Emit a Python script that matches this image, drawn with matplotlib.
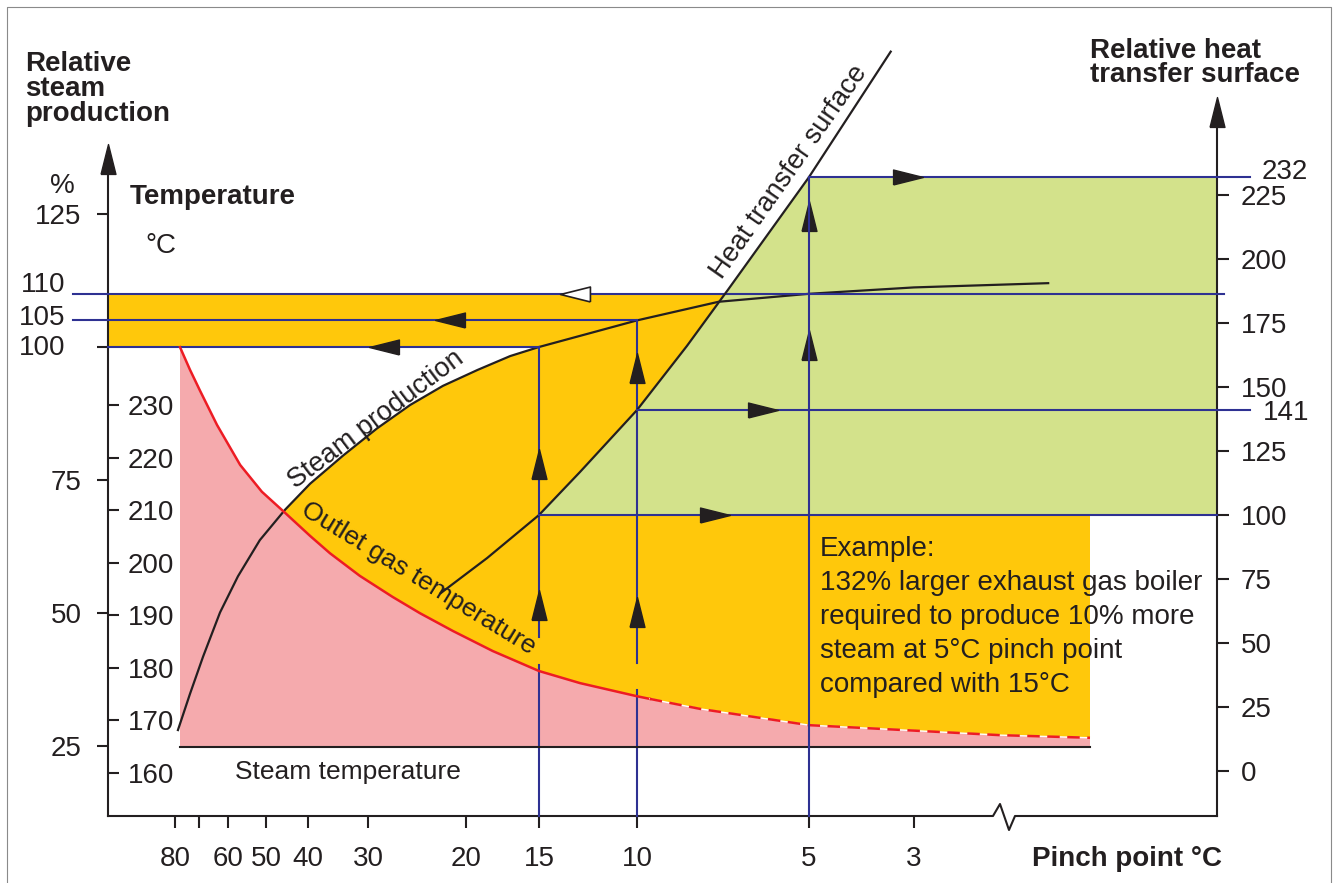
import numpy as np
import matplotlib
matplotlib.use("Agg")
import matplotlib.pyplot as plt
from matplotlib.patches import Polygon

plt.rcParams['font.family'] = ['Liberation Sans', 'DejaVu Sans']

# ---- values ----
# outlet gas temperature (degC) against pinch point (degC)
gas_pinch = [77.8, 73.6, 69.6, 63.6, 56.6, 51, 45.2, 39.6, 36, 31.2, 27.1, 24.2, 21.1, 18,
             15, 12.66, 10, 9.5, 7.76, 5, 3.21, 2, 1]
gas_temp = [241, 236.7, 232.7, 226.2, 218.6, 213.5, 209.5, 205.1, 201.8, 197.5, 193.5, 190.4,
            187, 183.2, 179.4, 177.1, 174.6, 174.1, 172.2, 169.1, 168.2, 167.2, 166.7]
gas_dashed_below = 9.5

# relative steam production (%)
steam_pinch = [78.7, 73.6, 68.5, 62.6, 57.2, 51.5, 45.2, 39.6, 33.8, 28.9, 25.2, 22, 19.1, 16.8,
               15, 10, 7.2, 5, 3, 1.38]
steam_pct = [28, 34.8, 41.8, 50.1, 56.9, 63.7, 69.4, 74.3, 79.6, 84.7, 89.1, 92.7, 95.7, 98.3,
             100, 105, 108.5, 110, 111.2, 112]

# relative heat transfer surface
surf_pinch = [22.2, 18.4, 15, 12.66, 10, 8.18, 6.93, 5, 3.36]
surf_rel = [69.5, 83.2, 100, 116.8, 141, 166, 188, 232, 281]

steam_temp = 165

# worked example
ex_pinch = [15, 10, 5]
ex_steam = [100, 105, 110]
ex_surf = [100, 141, 232]

pinch_ticks = [80, 70, 60, 50, 40, 30, 20, 15, 10, 5, 3]
pinch_labels = ['80', '', '60', '50', '40', '30', '20', '15', '10', '5', '3']
steam_ticks = [25, 50, 75, 100, 125]
steam_labels = ['25', '50', '75', '', '125']
temp_ticks = [160, 170, 180, 190, 200, 210, 220, 230]
surf_ticks = [0, 25, 50, 75, 100, 125, 150, 175, 200, 225]

ORANGE = '#FFC80B'
PINK = '#F5AAAD'
GREEN = '#D3E28B'
BLUE = '#2E3192'
RED = '#ED1C24'
INK = '#231F20'

# ---- layout (pixels of the 1336x883 picture) ----
W, H = 1336, 883
# the pinch axis is schematic: where each pinch value sits across the picture
knot_pinch = np.array([0.26, 0.5, 1, 2, 3, 5, 10, 15, 20, 30, 40, 50, 60, 70, 80, 210])
knot_px = np.array([1336, 1217, 1090, 1000, 914, 809, 637, 539, 466, 368, 308, 266, 228, 199, 175, 0])
knot_ln = np.log(knot_pinch)


def fwd(p):
    p = np.clip(np.asarray(p, dtype=float), 1e-6, None)
    return np.interp(np.log(p), knot_ln, knot_px)


def inv(x):
    return np.exp(np.interp(np.asarray(x, dtype=float), knot_px[::-1], knot_ln[::-1]))


def ylims(v0, y0, v1, y1):
    k = (v1 - v0) / (y1 - y0)
    return v0 + (H - y0) * k, v0 - y0 * k


X_LEFT, X_RIGHT, Y_BASE = 108, 1217, 816

fig = plt.figure(figsize=(W / 100, H / 100), dpi=100)
ax_px = fig.add_axes([0, 0, 1, 1])
ax_px.set_xlim(0, W)
ax_px.set_ylim(H, 0)
ax_px.axis('off')

ax_s = fig.add_axes([0, 0, 1, 1])
ax_s.set_xscale('function', functions=(fwd, inv))
ax_s.set_xlim(inv(0), inv(W))
ax_s.invert_xaxis()
ax_s.set_ylim(*ylims(100, 347, 25, 746))
ax_t = ax_s.twinx()
ax_t.set_ylim(*ylims(230, 405, 160, 773))
ax_h = ax_s.twinx()
ax_h.set_ylim(*ylims(225, 195, 0, 771))

for a in (ax_s, ax_t, ax_h):
    a.patch.set_visible(False)
    for sp in a.spines.values():
        sp.set_visible(False)


def to_px(ax, xs, ys):
    d = ax.transData.transform(np.column_stack([xs, ys]))
    return ax_px.transData.inverted().transform(d)


def y_at(ax, row):
    d = ax_px.transData.transform((0, row))
    return ax.transData.inverted().transform(d)[1]


# ---- filled areas ----
gp = np.array(gas_pinch)
gt = np.array(gas_temp)
sp_ = np.array(steam_pinch)
sv = np.array(steam_pct)
cross = 45.2

pink = np.vstack([to_px(ax_t, gp, gt),
                  to_px(ax_t, [gp[-1], gp[0]], [steam_temp, steam_temp])])
orange = np.vstack([to_px(ax_s, sp_[sp_ <= cross], sv[sp_ <= cross]),
                    to_px(ax_s, [gp[-1]], [sv[-1]]),
                    to_px(ax_t, gp[gp <= cross][::-1], gt[gp <= cross][::-1])])
band = to_px(ax_s, [inv(X_LEFT), 5, 5, inv(X_LEFT)], [100, 100, 110, 110])
sm = (np.array(surf_pinch) <= 15) & (np.array(surf_pinch) >= 5)
green = np.vstack([to_px(ax_h, np.array(surf_pinch)[sm], np.array(surf_rel)[sm]),
                   to_px(ax_h, [inv(X_RIGHT), inv(X_RIGHT)], [232, 100])])

for poly, col in ((orange, ORANGE), (band, ORANGE), (pink, PINK), (green, GREEN)):
    ax_px.add_patch(Polygon(poly, closed=True, facecolor=col, edgecolor='none', zorder=1))

# ---- frame ----
ax_px.plot([7, 7, 1331, 1331], [883, 7, 7, 883], color='#8a8a8a', lw=0.8, zorder=0)
ax_px.plot([X_LEFT, X_LEFT], [Y_BASE, 165], color=INK, lw=1.5, zorder=3)
ax_px.plot([X_RIGHT, X_RIGHT], [Y_BASE, 118], color=INK, lw=1.5, zorder=3)
ax_px.plot([X_LEFT, 993, 1000, 1009, 1015, X_RIGHT],
           [Y_BASE, Y_BASE, 804, 830, Y_BASE, Y_BASE], color=INK, lw=1.5, zorder=3)

UP = [(-0.5, -1), (0.5, -1), (0, 1), (-0.5, -1)]
LEFT = [(1, -0.5), (1, 0.5), (-1, 0), (1, -0.5)]
RIGHT = [(-1, -0.5), (-1, 0.5), (1, 0), (-1, -0.5)]
AMS = 21.5

ax_px.plot([X_LEFT], [159], marker=UP, ms=AMS, color=INK, ls='none', zorder=4)
ax_px.plot([X_RIGHT], [112], marker=UP, ms=AMS, color=INK, ls='none', zorder=4)

# ---- curves ----
solid = gp >= gas_dashed_below
dash = gp <= gas_dashed_below
ax_t.plot(gp[solid], gt[solid], color=RED, lw=1.8)
ax_t.plot(gp[dash], gt[dash], color='white', lw=1.0)
ax_t.plot(gp[dash], gt[dash], color=RED, lw=1.8, dashes=(5, 3))
ax_t.plot([gp[0], gp[-1]], [steam_temp, steam_temp], color=INK, lw=1.5)
ax_s.plot(steam_pinch, steam_pct, color=INK, lw=1.6)
ax_h.plot(surf_pinch, surf_rel, color=INK, lw=1.6)

# ---- worked example lines ----
lw_b = 1.5
ax_s.plot([inv(73), inv(1224)], [ex_steam[2], ex_steam[2]], color=BLUE, lw=lw_b)
ax_s.plot([inv(73), ex_pinch[1]], [ex_steam[1], ex_steam[1]], color=BLUE, lw=lw_b)
ax_s.plot([inv(X_LEFT), ex_pinch[0]], [ex_steam[0], ex_steam[0]], color=BLUE, lw=lw_b)
for p, v in zip(ex_pinch, ex_surf):
    ax_h.plot([p, inv(1250 if v != 100 else X_RIGHT)], [v, v], color=BLUE, lw=lw_b)

base_s = y_at(ax_s, Y_BASE)
ax_s.plot([15, 15], [base_s, y_at(ax_s, 665)], color=BLUE, lw=lw_b)
ax_s.plot([15, 15], [y_at(ax_s, 637), 100], color=BLUE, lw=lw_b)
ax_s.plot([10, 10], [base_s, y_at(ax_s, 690)], color=BLUE, lw=lw_b)
ax_s.plot([10, 10], [y_at(ax_s, 663), 105], color=BLUE, lw=lw_b)
ax_h.plot([5, 5], [y_at(ax_h, Y_BASE), 232], color=BLUE, lw=lw_b)

# arrow heads on the example lines
ax_s.plot([12.9], [110], marker=LEFT, ms=AMS, mfc='white', mec=INK, mew=1.2, ls='none')
ax_s.plot([21.4], [105], marker=LEFT, ms=AMS, color=INK, ls='none')
ax_s.plot([28.1], [100], marker=LEFT, ms=AMS, color=INK, ls='none')
ax_s.plot([15, 15], [78.1, 51.5], marker=UP, ms=AMS, color=INK, ls='none')
ax_s.plot([10, 10], [96.1, 50.1], marker=UP, ms=AMS, color=INK, ls='none')
ax_s.plot([5, 5], [124.6, 100.4], marker=UP, ms=AMS, color=INK, ls='none')
ax_h.plot([3.09, 6.02, 7.31], [232, 141, 100], marker=RIGHT, ms=AMS, color=INK, ls='none')

# ---- axes ticks ----
ax_s.spines['left'].set_position(('axes', X_LEFT / W))
ax_s.spines['bottom'].set_position(('axes', (H - Y_BASE) / H))
ax_s.set_xticks(pinch_ticks, labels=pinch_labels)
ax_s.set_yticks(steam_ticks, labels=steam_labels)
ax_s.tick_params(axis='x', direction='out', length=8.5, width=1.5, pad=13, labelsize=20,
                 color=INK, labelcolor=INK)
ax_s.tick_params(axis='y', direction='out', length=8, width=1.5, pad=11, labelsize=20,
                 color=INK, labelcolor=INK)
ax_s.minorticks_off()

ax_t.spines['right'].set_position(('axes', X_LEFT / W))
ax_t.set_yticks(temp_ticks)
ax_t.tick_params(axis='y', direction='out', length=8, width=1.5, pad=6, labelsize=20,
                 color=INK, labelcolor=INK)

ax_h.spines['right'].set_position(('axes', X_RIGHT / W))
ax_h.set_yticks(surf_ticks)
ax_h.tick_params(axis='y', direction='out', length=8.5, width=1.5, pad=8.5, labelsize=20,
                 color=INK, labelcolor=INK)

# ---- texts ----
tk = dict(color=INK, fontsize=20)
ax_px.text(25, 51, 'Relative\nsteam\nproduction', fontweight='bold', va='top', ha='left',
           linespacing=0.94, **tk)
ax_px.text(1090, 38, 'Relative heat\ntransfer surface', fontweight='bold', va='top', ha='left',
           linespacing=0.92, **tk)
ax_px.text(130, 204, 'Temperature', fontweight='bold', va='baseline', **tk)
ax_px.text(145, 246, '°C', va='center', **tk)
ax_px.text(62, 186, '%', va='center', ha='center', **tk)
for lab, row in (('110', 285), ('105', 318), ('100', 348)):
    ax_px.text(65, row, lab, ha='right', va='center', **tk)
ax_px.text(1262, 172, '232', ha='left', va='center', **tk)
ax_px.text(1263, 413, '141', ha='left', va='center', **tk)
ax_px.text(1032, 866, 'Pinch point °C', fontweight='bold', va='baseline', **tk)
ax_px.text(235, 779, 'Steam temperature', va='baseline', color=INK, fontsize=19)
ax_px.text(820, 536, 'Example:\n132% larger exhaust gas boiler\nrequired to produce 10% more\n'
           'steam at 5°C pinch point\ncompared with 15°C', va='top', ha='left',
           linespacing=1.4, **tk)
ax_px.text(376, 420, 'Steam production', rotation=37, rotation_mode='anchor',
           ha='center', va='center', color=INK, fontsize=19.5)
ax_px.text(789, 172, 'Heat transfer surface', rotation=55, rotation_mode='anchor',
           ha='center', va='center', color=INK, fontsize=19.5)
ax_px.text(418, 578, 'Outlet gas temperature', rotation=-31.5, rotation_mode='anchor',
           ha='center', va='center', color=INK, fontsize=19)

fig.savefig('out.png', dpi=100)
